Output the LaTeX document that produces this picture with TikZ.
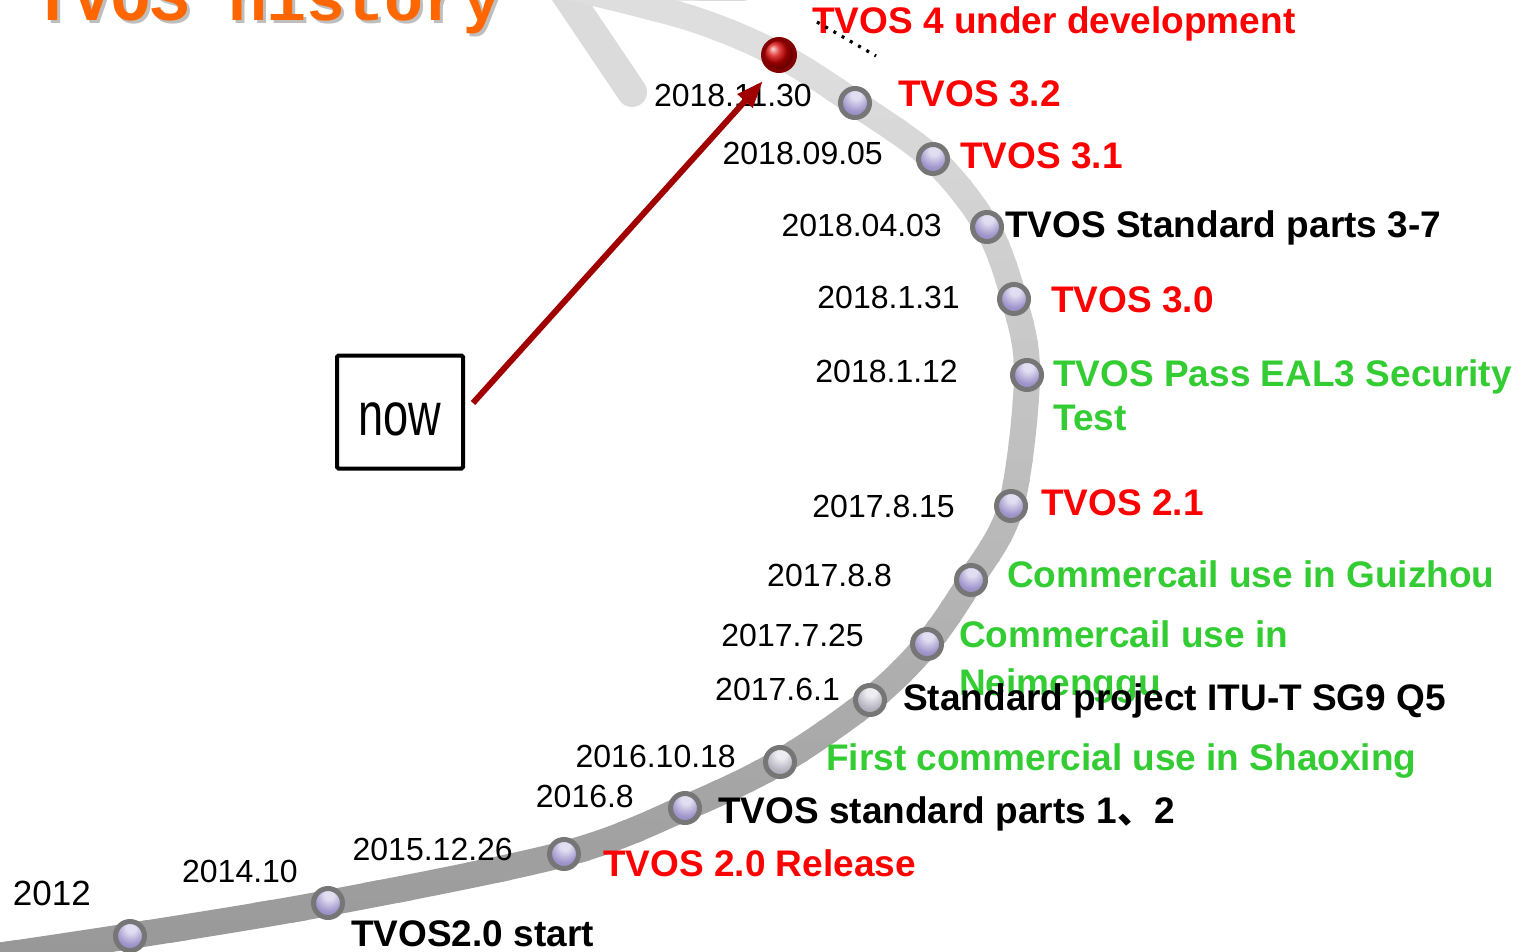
\documentclass[tikz,border=0pt]{standalone}
\usepackage{fontspec}
\setmainfont{Liberation Sans}
\newfontfamily\cjk{Noto Sans CJK SC}
\newfontfamily\titlefont{Liberation Mono}
\usetikzlibrary{arrows.meta}
\definecolor{tvred}{RGB}{255,0,0}
\definecolor{tvgreen}{RGB}{51,204,51}
\definecolor{tvorange}{RGB}{255,102,0}
\definecolor{ringgray}{RGB}{118,118,118}
\definecolor{lav}{RGB}{158,148,202}
\definecolor{lavhi}{RGB}{226,222,242}
\definecolor{lavedge}{RGB}{140,130,185}
\definecolor{silv}{RGB}{180,178,190}
\definecolor{silvhi}{RGB}{238,238,242}
\definecolor{silvedge}{RGB}{155,153,165}
\definecolor{arrowred}{RGB}{160,0,0}
\definecolor{dotring}{RGB}{130,0,0}
\definecolor{dotred}{RGB}{215,0,0}
\definecolor{barbgray}{RGB}{219,219,219}
\definecolor{shadowgray}{RGB}{190,190,190}
\pgfdeclareradialshading{bubshade}{\pgfpoint{2bp}{16bp}}{color(0bp)=(lavhi); color(8bp)=(lavhi); color(26bp)=(lav); color(50bp)=(lavedge); color(80bp)=(lavedge)}
\pgfdeclareradialshading{silvshade}{\pgfpoint{2bp}{16bp}}{color(0bp)=(silvhi); color(8bp)=(silvhi); color(26bp)=(silv); color(50bp)=(silvedge); color(80bp)=(silvedge)}
\begin{document}
\begin{tikzpicture}[x=1pt,y=-1pt,
  datelbl/.style={anchor=base east, inner sep=0, font=\fontsize{32}{36}\selectfont},
  evt/.style={anchor=base west, inner sep=0, font=\fontsize{37}{44}\selectfont\bfseries},
  bubble/.style={circle, inner sep=0, minimum size=29pt, draw=ringgray, line width=5pt, shade, shading=bubshade},
  sbubble/.style={bubble, shading=silvshade},
  nowframe/.style={draw=black, line width=4pt, rounded corners=1.5pt, minimum width=126pt, minimum height=113pt, inner sep=0},
  nowarrow/.style={draw=arrowred, line width=6pt, -{Triangle[length=27pt,width=19pt]}},
  dotline/.style={draw=black, line width=3.2pt, dash pattern=on 3pt off 6.5pt},
  titletext/.style={anchor=base west, inner sep=0, font=\fontsize{65}{65}\selectfont\titlefont\bfseries}
]
\useasboundingbox (0,0) rectangle (1522,952);
\fill[white] (0,0) rectangle (1522,952);

% title (cut off at top)
\node[titletext, text=shadowgray] (titleshadow) at (36,24) {TVOS history};
\node[titletext, text=tvorange] (title) at (33,21) {TVOS history};

% arrow head barbs
\draw[barbgray, line width=30pt, line cap=round, line join=round] (632,92) -- (560,-15) -- (742,-14);

% band with gradient (strips)
\def\bandpath{plot[smooth,tension=0.55] coordinates {(-30,960) (130,936) (328,903) (564,854) (685,808) (780,762) (870,700) (927,644) (971,580) (1011,506) (1027,375) (1014,299) (987,227) (933,159) (855,103) (779,55) (690,18) (560,-15)}}
\foreach \i in {0,...,50}{
  \pgfmathsetmacro\ya{\i*20-40}
  \pgfmathsetmacro\yb{\ya+22}
  \pgfmathsetmacro\g{min(0.87,(153+(935-\ya)*0.078)/255)}
  \definecolor{bandc}{gray}{\g}
  \begin{scope}
    \clip (-50,\ya) rectangle (1600,\yb);
    \draw[bandc, line width=26pt, line cap=round] \bandpath;
  \end{scope}
}

% bubbles
\node[bubble] (b2012) at (130,936) {};
\node[bubble] (b2014) at (328,903) {};
\node[bubble] (b2015) at (564,854) {};
\node[bubble] (b2016a) at (685,808) {};
\node[sbubble] (b2016b) at (780,762) {};
\node[sbubble] (b2017a) at (870,700) {};
\node[bubble] (b2017b) at (927,644) {};
\node[bubble] (b2017c) at (971,580) {};
\node[bubble] (b2017d) at (1011,506) {};
\node[bubble] (b2018a) at (1027,375) {};
\node[bubble] (b2018b) at (1014,299) {};
\node[bubble] (b2018c) at (987,227) {};
\node[bubble] (b2018d) at (933,159) {};
\node[bubble] (b2018e) at (855,103) {};
\node[circle, inner sep=0, minimum size=32pt, draw=dotring, line width=4pt, ball color=dotred] (reddot) at (779,55) {};

% dates
\node[datelbl, font=\fontsize{35}{40}\selectfont] (d2012) at (91,905) {2012};
\node[datelbl] (d2014) at (298,882) {2014.10};
\node[datelbl] (d2015) at (513,860) {2015.12.26};
\node[datelbl] (d2016a) at (634,807) {2016.8};
\node[datelbl] (d2016b) at (736,767) {2016.10.18};
\node[datelbl] (d2017a) at (840,700) {2017.6.1};
\node[datelbl] (d2017b) at (864,646) {2017.7.25};
\node[datelbl] (d2017c) at (892,586) {2017.8.8};
\node[datelbl] (d2017d) at (955,517) {2017.8.15};
\node[datelbl] (d2018a) at (958,382) {2018.1.12};
\node[datelbl] (d2018b) at (960,308) {2018.1.31};
\node[datelbl] (d2018c) at (942,236) {2018.04.03};
\node[datelbl] (d2018d) at (883,165) {2018.09.05};
\node[datelbl] (d2018e) at (812,107) {2018.11.30};

% events
\node[evt, text=tvred] (e4) at (812,34) {TVOS 4 under development};
\node[evt, text=tvred] (e32) at (898,107) {TVOS 3.2};
\node[evt, text=tvred] (e31) at (960,169) {TVOS 3.1};
\node[evt, text=black] (e37) at (1005,237) {TVOS Standard parts 3-7};
\node[evt, text=tvred] (e30) at (1051,312) {TVOS 3.0};
\node[evt, text=tvgreen] (eeal) at (1053,386) {TVOS Pass EAL3 Security};
\node[evt, text=tvgreen] (eeal2) at (1053,430) {Test};
\node[evt, text=tvred] (e21) at (1041,515) {TVOS 2.1};
\node[evt, text=tvgreen] (egz) at (1007,587) {Commercail use in Guizhou};
\node[evt, text=tvgreen] (enm) at (959,647) {Commercail use in};
\node[evt, text=tvgreen] (enm2) at (959,695) {Neimenggu};
\node[evt, text=black] (esg9) at (903,710) {Standard project ITU-T SG9 Q5};
\node[evt, text=tvgreen] (esx) at (826,770) {First commercial use in Shaoxing};
\node[evt, text=black] (estd) at (718,823) {TVOS standard parts 1{\cjk 、}2};
\node[evt, text=tvred] (e20) at (603,876) {TVOS 2.0 Release};
\node[evt, text=black] (estart) at (351,946) {TVOS2.0 start};

% dotted pointer
\coordinate (dotA) at (817,22);
\coordinate (dotB) at (876,56);
\draw[dotline] (dotA) -- (dotB);

% now box and arrow
\node[nowframe] (nowbox) at (400,412) {};
\node[anchor=base, inner sep=0, xscale=0.74, font=\fontsize{61}{61}\selectfont] (nowtext) at (400,435) {now};
\coordinate (nowstart) at (473,403);
\coordinate (nowtip) at (763,81);
\draw[nowarrow] (nowstart) -- (nowtip);
\end{tikzpicture}
\end{document}
